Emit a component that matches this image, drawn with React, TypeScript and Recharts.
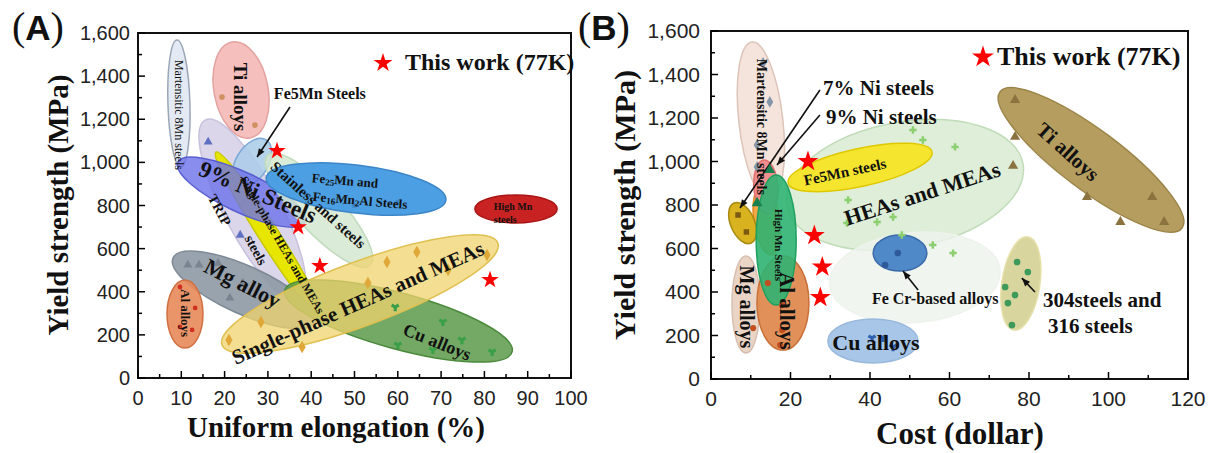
import React from "react";
import {
  ScatterChart,
  Scatter,
  XAxis,
  YAxis,
  ReferenceLine,
  ReferenceDot,
  ReferenceArea,
  Symbols,
} from "recharts";

const SERIF = '"Liberation Serif", "Times New Roman", serif';
const SANS = '"Liberation Sans", Arial, sans-serif';

// ── Axis ticks ─────────────────────────────────────────
const xTicksA = [0, 5, 10, 15, 20, 25, 30, 35, 40, 45, 50, 55, 60, 65, 70, 75, 80, 85, 90, 95, 100];
const xTicksB = [0, 10, 20, 30, 40, 50, 60, 70, 80, 90, 100, 110, 120];
const yTicks = [0, 100, 200, 300, 400, 500, 600, 700, 800, 900, 1000, 1100, 1200, 1300, 1400, 1500, 1600];

// ── This work (77K) ────────────────────────────────────
const starsA = [
  { x: 32.1, y: 1053 },
  { x: 37, y: 700 },
  { x: 42, y: 520 },
  { x: 81.3, y: 455 },
];
const starsB = [
  { x: 24.4, y: 1000 },
  { x: 26, y: 660 },
  { x: 28, y: 515 },
  { x: 27.5, y: 375 },
];

// ── Property regions (major axis ends, in data units) ──
const regionsA = [
  { id: "mart", x1: 9.0, y1: 1568, x2: 9.9, y2: 979 },
  { id: "ti", x1: 21.7, y1: 1558, x2: 25.9, y2: 1113 },
  { id: "trip", x1: 15.5, y1: 1196, x2: 37.4, y2: 361 },
  { id: "fe5mn", x1: 23.1, y1: 895, x2: 29.6, y2: 1104 },
  { id: "hea1", x1: 18, y1: 1048, x2: 42.5, y2: 278 },
  { id: "ni9", x1: 9.2, y1: 1001, x2: 38.6, y2: 723 },
  { id: "stain", x1: 30, y1: 1034, x2: 53.6, y2: 524 },
  { id: "fe25", x1: 29.6, y1: 928, x2: 71.1, y2: 825 },
  { id: "highmn", x1: 77.8, y1: 784, x2: 96.8, y2: 784 },
  { id: "mg", x1: 8.1, y1: 557, x2: 40.9, y2: 260 },
  { id: "al", x1: 10.85, y1: 454, x2: 10.85, y2: 139 },
  { id: "cu", x1: 33.9, y1: 408, x2: 86.4, y2: 121 },
  { id: "hea", x1: 19.4, y1: 153, x2: 83.1, y2: 626 },
];
const regionsB = [
  { id: "mart", x1: 10.3, y1: 1549, x2: 14.8, y2: 823 },
  { id: "hea", x1: 19.1, y1: 795, x2: 78.5, y2: 989 },
  { id: "bg", x1: 29.9, y1: 432, x2: 72.7, y2: 501 },
  { id: "ti", x1: 72.7, y1: 1320, x2: 118.5, y2: 694 },
  { id: "fe5mn", x1: 19.4, y1: 901, x2: 55.6, y2: 1044 },
  { id: "orange", x1: 12.8, y1: 892, x2: 15.3, y2: 570 },
  { id: "ni7", x1: 13.3, y1: 1007, x2: 14.3, y2: 760 },
  { id: "ni9", x1: 5.8, y1: 809, x2: 10.1, y2: 625 },
  { id: "mg", x1: 8.8, y1: 566, x2: 8.8, y2: 120 },
  { id: "al", x1: 18.1, y1: 566, x2: 18.1, y2: 133 },
  { id: "highmn", x1: 16.4, y1: 938, x2: 16.4, y2: 340 },
  { id: "fecr", x1: 40.8, y1: 579, x2: 54.3, y2: 579 },
  { id: "cu", x1: 29.4, y1: 175, x2: 52.1, y2: 175 },
  { id: "ss", x1: 79.7, y1: 653, x2: 76.2, y2: 225 },
];

const REGION_STYLE: Record<string, { w: number; fill: string; stroke: string; op: number }> = {
  "A.mart": { w: 11, fill: "#e4eaf3", stroke: "#9ba6b6", op: 1 },
  "A.ti": { w: 27, fill: "#f3bcb8", stroke: "#e3a3a0", op: 0.95 },
  "A.trip": { w: 28, fill: "#d7d1e8", stroke: "#c8c0dc", op: 0.9 },
  "A.fe5mn": { w: 16, fill: "#a9cbe9", stroke: "#7aa8d8", op: 0.85 },
  "A.hea1": { w: 10, fill: "#e6e600", stroke: "#c8c800", op: 1 },
  "A.ni9": { w: 20, fill: "#6b70e8", stroke: "#5a5fd0", op: 0.8 },
  "A.stain": { w: 22, fill: "#d3e8d0", stroke: "#c0dcbc", op: 0.85 },
  "A.fe25": { w: 24, fill: "#4c9fe2", stroke: "#3c86c8", op: 1 },
  "A.highmn": { w: 14, fill: "#c92222", stroke: "#a81515", op: 1 },
  "A.mg": { w: 24, fill: "#8d99a5", stroke: "#7d8995", op: 0.9 },
  "A.al": { w: 18, fill: "#e8885a", stroke: "#d07040", op: 0.9 },
  "A.cu": { w: 28, fill: "#5b9a4a", stroke: "#4a8a3a", op: 0.85 },
  "A.hea": { w: 32, fill: "#efd36e", stroke: "#e0c050", op: 0.75 },
  "B.mart": { w: 22, fill: "#f4e1d8", stroke: "#dcc4b8", op: 0.9 },
  "B.hea": { w: 63, fill: "#d3e8cc", stroke: "#c0dcb8", op: 0.75 },
  "B.bg": { w: 45, fill: "#eef3ec", stroke: "#eef3ec", op: 0.8 },
  "B.ti": { w: 30, fill: "#b49d5e", stroke: "#9b8448", op: 1 },
  "B.fe5mn": { w: 19, fill: "#f5e426", stroke: "#e0c800", op: 0.95 },
  "B.ni7": { w: 12, fill: "#f08a8a", stroke: "#e07070", op: 0.95 },
  "B.orange": { w: 13, fill: "#f2a23a", stroke: "#e08a20", op: 0.95 },
  "B.ni9": { w: 12, fill: "#d9b21f", stroke: "#a88a10", op: 1 },
  "B.mg": { w: 14, fill: "#e9d4c6", stroke: "#d8c0b0", op: 1 },
  "B.al": { w: 26, fill: "#e08a50", stroke: "#c87038", op: 0.95 },
  "B.highmn": { w: 20, fill: "#2fb372", stroke: "#20a060", op: 0.9 },
  "B.fecr": { w: 18, fill: "#4f89c8", stroke: "#3a6aa8", op: 1 },
  "B.cu": { w: 22, fill: "#a8c7e8", stroke: "#98b8dc", op: 1 },
  "B.ss": { w: 19, fill: "#d8d59e", stroke: "#e6e0a8", op: 1 },
};

// ── Sample points inside the regions ───────────────────
const mgPtsA = [
  { x: 11.5, y: 524 }, { x: 14.1, y: 524 }, { x: 18.5, y: 533 }, { x: 24.2, y: 441 }, { x: 21.2, y: 371 },
];
const heaPtsA = [
  { x: 57.5, y: 538 }, { x: 64.4, y: 584 }, { x: 71.6, y: 501 }, { x: 80.6, y: 570 },
  { x: 21, y: 176 }, { x: 37.9, y: 144 }, { x: 28.4, y: 260 }, { x: 53.1, y: 441 },
];
const cuPtsA = [
  { x: 59.4, y: 329 }, { x: 70.4, y: 260 }, { x: 60, y: 153 }, { x: 68.1, y: 130 }, { x: 74.8, y: 176 }, { x: 81.8, y: 121 },
];
const alPtsA = [{ x: 9.7, y: 422 }, { x: 13.2, y: 325 }, { x: 9.7, y: 237 }, { x: 12.5, y: 223 }];
const tripPtsA = [{ x: 16.2, y: 1095 }, { x: 23.6, y: 663 }];
const tiPtsA = [{ x: 19.4, y: 1303 }, { x: 27, y: 1173 }];
const fe25PtsA = [{ x: 50, y: 800 }, { x: 60, y: 815 }];

const tiPtsB = [
  { x: 76.5, y: 1283 }, { x: 76.5, y: 1113 }, { x: 76, y: 980 }, { x: 94.6, y: 836 },
  { x: 111, y: 836 }, { x: 103, y: 722 }, { x: 114, y: 722 },
];
const martPtsB = [{ x: 13.1, y: 1453 }, { x: 14.8, y: 1274 }, { x: 11.6, y: 1076 }, { x: 11.6, y: 975 }];
const heaPtsB = [
  { x: 50.8, y: 1145 }, { x: 53.3, y: 1099 }, { x: 61.4, y: 1067 }, { x: 55.8, y: 616 }, { x: 60.9, y: 579 },
  { x: 34.5, y: 823 }, { x: 45.8, y: 745 }, { x: 34.2, y: 717 }, { x: 41.8, y: 722 }, { x: 48, y: 662 },
];
const ssPtsB = [
  { x: 77, y: 538 }, { x: 79.7, y: 492 }, { x: 74, y: 423 }, { x: 76.5, y: 386 }, { x: 74.7, y: 349 }, { x: 75.7, y: 248 },
];
const alPtsB = [{ x: 17.9, y: 340 }, { x: 17.9, y: 225 }, { x: 17.4, y: 156 }, { x: 14.3, y: 441 }, { x: 10.6, y: 234 }];
const mnPtsB = [{ x: 14.8, y: 961 }, { x: 11.6, y: 809 }];
const cuPtsB = [{ x: 40.5, y: 189 }, { x: 43.3, y: 189 }, { x: 45.8, y: 147 }];
const fecrPtsB = [{ x: 47, y: 579 }, { x: 43.8, y: 524 }];
const ni9PtsB = [{ x: 6.8, y: 754 }, { x: 8.9, y: 676 }];

// ── Region labels ──────────────────────────────────────
const notesA = [
  { id: "mart", text: "Martensitic 8Mn steels", x: 9.47, y: 1220 },
  { id: "ti", text: "Ti alloys", x: 23.8, y: 1303 },
  { id: "fe5mn", text: "Fe5Mn Steels", x: 42.0, y: 1322 },
  { id: "ni9", text: "9% Ni Steels", x: 27.7, y: 863 },
  { id: "trip1", text: "TRIP", x: 18.9, y: 779 },
  { id: "trip2", text: "steels", x: 27.3, y: 594 },
  { id: "hea1", text: "Single-phase HEAs and MEAs", x: 33.3, y: 617 },
  { id: "stain", text: "Stainless and steels", x: 41.6, y: 802 },
  { id: "fe25a", text: "Fe_25Mn and", x: 47.8, y: 918 },
  { id: "fe25b", text: "Fe_16Mn_2Al Steels", x: 51.3, y: 826 },
  { id: "hm1", text: "High Mn", x: 86.6, y: 798 },
  { id: "hm2", text: "steels", x: 84.8, y: 737 },
  { id: "mg", text: "Mg   alloy", x: 24.2, y: 441 },
  { id: "al", text: "Al alloys", x: 11.1, y: 301 },
  { id: "hea", text: "Single-phase  HEAs and MEAs", x: 50.8, y: 348 },
  { id: "cu", text: "Cu alloys", x: 69.1, y: 167 },
];
const notesB = [
  { id: "mart", text: "Martensitic 8Mn steels", x: 12.8, y: 1159 },
  { id: "ni7", text: "7% Ni steels", x: 28.2, y: 1338 },
  { id: "ni9", text: "9% Ni   steels", x: 28.9, y: 1205 },
  { id: "fe5mn", text: "Fe5Mn steels", x: 33.7, y: 952 },
  { id: "highmn", text: "High Mn Steels", x: 17.1, y: 616 },
  { id: "hea", text: "HEAs and MEAs", x: 53.1, y: 855 },
  { id: "ti", text: "Ti alloys", x: 89.8, y: 1044 },
  { id: "mg", text: "Mg alloys", x: 9.1, y: 331 },
  { id: "al", text: "Al alloys", x: 19.1, y: 313 },
  { id: "fecr", text: "Fe Cr-based alloys", x: 56.4, y: 372 },
  { id: "cu", text: "Cu alloys", x: 41.5, y: 170 },
  { id: "ss1", text: "304steels and", x: 83.5, y: 363 },
  { id: "ss2", text: "316 steels", x: 84.8, y: 244 },
];

const NOTE_STYLE: Record<string, { fs: number; rot: number; bold: boolean; anchor?: string }> = {
  "A.mart": { fs: 12, rot: 90, bold: false },
  "A.ti": { fs: 19, rot: 90, bold: true },
  "A.fe5mn": { fs: 16, rot: 0, bold: true },
  "A.ni9": { fs: 23, rot: 23, bold: true },
  "A.trip1": { fs: 14, rot: 62, bold: true },
  "A.trip2": { fs: 14, rot: 62, bold: true },
  "A.hea1": { fs: 12, rot: 60, bold: true },
  "A.stain": { fs: 15, rot: 42, bold: true },
  "A.fe25a": { fs: 13, rot: 5, bold: true },
  "A.fe25b": { fs: 13, rot: 5, bold: true },
  "A.hm1": { fs: 10, rot: 0, bold: true },
  "A.hm2": { fs: 10, rot: 0, bold: true },
  "A.mg": { fs: 22, rot: 27, bold: true },
  "A.al": { fs: 13, rot: 90, bold: true },
  "A.hea": { fs: 21, rot: -24, bold: true },
  "A.cu": { fs: 18, rot: 22, bold: true },
  "B.mart": { fs: 14, rot: 90, bold: true },
  "B.ni7": { fs: 21, rot: 0, bold: true, anchor: "start" },
  "B.ni9": { fs: 21, rot: 0, bold: true, anchor: "start" },
  "B.fe5mn": { fs: 15, rot: -12, bold: true },
  "B.highmn": { fs: 11, rot: 90, bold: true },
  "B.hea": { fs: 22, rot: -18, bold: true },
  "B.ti": { fs: 21, rot: 42, bold: true },
  "B.mg": { fs: 20, rot: 90, bold: true },
  "B.al": { fs: 21, rot: 90, bold: true },
  "B.fecr": { fs: 16, rot: 0, bold: true },
  "B.cu": { fs: 22, rot: 0, bold: true },
  "B.ss1": { fs: 21, rot: 0, bold: true, anchor: "start" },
  "B.ss2": { fs: 21, rot: 0, bold: true, anchor: "start" },
};

// ── Pointer arrows (tail → head, data units) ───────────
const arrowsA = [{ x1: 35.1, y1: 1257, x2: 27.5, y2: 1025 }];
const arrowsB = [
  { x1: 27.4, y1: 1329, x2: 7.3, y2: 786 },
  { x1: 27.4, y1: 1214, x2: 16.6, y2: 984 },
  { x1: 52.1, y1: 409, x2: 48.3, y2: 497 },
  { x1: 81.5, y1: 400, x2: 78.2, y2: 464 },
];

// ── shapes ─────────────────────────────────────────────
const ellipseShape = (key: string) => (p: any) => {
  const st = REGION_STYLE[key];
  const cx = (p.x1 + p.x2) / 2;
  const cy = (p.y1 + p.y2) / 2;
  const rx = Math.hypot(p.x2 - p.x1, p.y2 - p.y1) / 2;
  const ang = (Math.atan2(p.y2 - p.y1, p.x2 - p.x1) * 180) / Math.PI;
  return (
    <ellipse
      cx={cx}
      cy={cy}
      rx={rx}
      ry={st.w}
      transform={`rotate(${ang} ${cx} ${cy})`}
      fill={st.fill}
      fillOpacity={st.op}
      stroke={st.stroke}
      strokeWidth={1.5}
    />
  );
};

const arrowShape = (p: any) => {
  const ang = Math.atan2(p.y2 - p.y1, p.x2 - p.x1);
  const L = 9;
  const a1 = ang + Math.PI - 0.38;
  const a2 = ang + Math.PI + 0.38;
  const pts = `${p.x2},${p.y2} ${p.x2 + L * Math.cos(a1)},${p.y2 + L * Math.sin(a1)} ${p.x2 + L * Math.cos(a2)},${p.y2 + L * Math.sin(a2)}`;
  return (
    <g>
      <line x1={p.x1} y1={p.y1} x2={p.x2} y2={p.y2} stroke="#111" strokeWidth={1.6} />
      <polygon points={pts} fill="#111" />
    </g>
  );
};

function rich(text: string, fs: number) {
  const parts = text.split(/_(\d+)/);
  return parts.map((s, i) => {
    if (i % 2 === 1)
      return (
        <tspan key={i} dy={fs * 0.3} fontSize={fs * 0.7}>
          {s}
        </tspan>
      );
    return (
      <tspan key={i} dy={i > 0 ? -fs * 0.3 : 0}>
        {s}
      </tspan>
    );
  });
}

const noteShape = (key: string, text: string) => (p: any) => {
  const st = NOTE_STYLE[key];
  return (
    <text
      x={p.cx}
      y={p.cy}
      transform={`rotate(${st.rot} ${p.cx} ${p.cy})`}
      textAnchor={st.anchor ?? "middle"}
      dominantBaseline="central"
      fontFamily={SERIF}
      fontWeight={st.bold ? 700 : 400}
      fontSize={st.fs}
      fill="#111"
    >
      {rich(text, st.fs)}
    </text>
  );
};

const mark = (type: any, size: number, fill: string) => (p: any) => (
  <Symbols cx={p.cx} cy={p.cy} type={type} size={size} fill={fill} />
);

const xTick = (major: number, fs: number) => (p: any) => {
  const v = p.payload.value;
  const isMajor = v % major === 0;
  return (
    <g>
      <line x1={p.x} x2={p.x} y1={p.y} y2={p.y - (isMajor ? 7 : 4)} stroke="#000" strokeWidth={1.5} />
      {isMajor && (
        <text x={p.x} y={p.y + 27} textAnchor="middle" fontFamily={SANS} fontSize={fs} fill="#222">
          {v}
        </text>
      )}
    </g>
  );
};

const yTick = (fs: number, gap: number) => (p: any) => {
  const v = p.payload.value;
  const isMajor = v % 200 === 0;
  return (
    <g>
      <line x1={p.x} x2={p.x + (isMajor ? 7 : 4)} y1={p.y} y2={p.y} stroke="#000" strokeWidth={1.5} />
      {isMajor && (
        <text x={p.x - gap} y={p.y + 7} textAnchor="end" fontFamily={SANS} fontSize={fs} fill="#222">
          {v.toLocaleString("en-US")}
        </text>
      )}
    </g>
  );
};

type Marks = { data: { x: number; y: number }[]; type: string; size: number; fill: string };

function Panel(props: {
  tag: string;
  width: number;
  margin: any;
  xMax: number;
  xTicks: number[];
  xMajor: number;
  fs: number;
  yGap: number;
  regions: typeof regionsA;
  notes: typeof notesA;
  arrows: typeof arrowsA;
  stars: typeof starsA;
  starSize: number;
  marks: Marks[];
}) {
  const { tag } = props;
  return (
    <ScatterChart width={props.width} height={453} margin={props.margin}>
      <XAxis
        type="number"
        dataKey="x"
        domain={[0, props.xMax]}
        ticks={props.xTicks}
        interval={0}
        axisLine={false}
        tickLine={false}
        tickSize={0}
        tickMargin={0}
        tick={xTick(props.xMajor, props.fs)}
        allowDataOverflow
      />
      <YAxis
        type="number"
        dataKey="y"
        domain={[0, 1600]}
        ticks={yTicks}
        interval={0}
        axisLine={false}
        tickLine={false}
        tickSize={0}
        tickMargin={0}
        tick={yTick(props.fs, props.yGap)}
        allowDataOverflow
      />
      <ReferenceArea x1={0} x2={props.xMax} y1={0} y2={1600} fill="none" stroke="#111" strokeWidth={2} />
      {props.regions.map((r) => (
        <ReferenceLine
          key={r.id}
          segment={[
            { x: r.x1, y: r.y1 },
            { x: r.x2, y: r.y2 },
          ]}
          ifOverflow="visible"
          shape={ellipseShape(`${tag}.${r.id}`)}
        />
      ))}
      {props.marks.map((m, i) => (
        <Scatter key={i} data={m.data} shape={mark(m.type, m.size, m.fill)} isAnimationActive={false} />
      ))}
      {props.arrows.map((a, i) => (
        <ReferenceLine
          key={`ar${i}`}
          segment={[
            { x: a.x1, y: a.y1 },
            { x: a.x2, y: a.y2 },
          ]}
          ifOverflow="visible"
          shape={arrowShape}
        />
      ))}
      {props.notes.map((n) => (
        <ReferenceDot key={n.id} x={n.x} y={n.y} ifOverflow="visible" shape={noteShape(`${tag}.${n.id}`, n.text)} />
      ))}
      <Scatter data={props.stars} shape={mark("star", props.starSize, "#ff0000")} isAnimationActive={false} />
    </ScatterChart>
  );
}

export default function App() {
  return (
    <div style={{ position: "absolute", left: 0, top: 0, width: 1218, height: 453, background: "#fff" }}>
      <div style={{ position: "absolute", left: 0, top: 0 }}>
        <Panel
          tag="A"
          width={600}
          margin={{ top: 33, right: 29, bottom: 45, left: 78 }}
          xMax={100}
          xTicks={xTicksA}
          xMajor={10}
          fs={20}
          yGap={8}
          regions={regionsA}
          notes={notesA}
          arrows={arrowsA}
          stars={starsA}
          starSize={95}
          marks={[
            { data: mgPtsA, type: "triangle", size: 35, fill: "#7a8490" },
            { data: heaPtsA, type: "diamond", size: 45, fill: "#e0a838" },
            { data: cuPtsA, type: "wye", size: 35, fill: "#3aa048" },
            { data: alPtsA, type: "circle", size: 18, fill: "#d03020" },
            { data: tripPtsA, type: "triangle", size: 35, fill: "#6070c0" },
            { data: tiPtsA, type: "circle", size: 25, fill: "#d09060" },
            { data: fe25PtsA, type: "circle", size: 20, fill: "#3c86c8" },
          ]}
        />
      </div>
      <div style={{ position: "absolute", left: 600, top: 0 }}>
        <Panel
          tag="B"
          width={618}
          margin={{ top: 31, right: 30, bottom: 44, left: 51 }}
          xMax={120}
          xTicks={xTicksB}
          xMajor={20}
          fs={21}
          yGap={11}
          regions={regionsB}
          notes={notesB}
          arrows={arrowsB}
          stars={starsB}
          starSize={135}
          marks={[
            { data: tiPtsB, type: "triangle", size: 45, fill: "#8b7340" },
            { data: martPtsB, type: "diamond", size: 40, fill: "#8595a8" },
            { data: heaPtsB, type: "cross", size: 30, fill: "#8ccf70" },
            { data: ssPtsB, type: "circle", size: 35, fill: "#3d9a5a" },
            { data: alPtsB, type: "circle", size: 30, fill: "#c05020" },
            { data: mnPtsB, type: "triangle", size: 50, fill: "#1a8050" },
            { data: cuPtsB, type: "wye", size: 35, fill: "#3060b0" },
            { data: fecrPtsB, type: "circle", size: 35, fill: "#2e5a9a" },
            { data: ni9PtsB, type: "square", size: 30, fill: "#7a5a10" },
          ]}
        />
      </div>
      <svg
        width={1218}
        height={453}
        style={{ position: "absolute", left: 0, top: 0, pointerEvents: "none" }}
      >
        {/* panel letters */}
        <text x={12} y={40} fill="#111">
          <tspan fontFamily={SERIF} fontSize={40}>(</tspan>
          <tspan fontFamily={SANS} fontWeight={700} fontSize={35}>A</tspan>
          <tspan fontFamily={SERIF} fontSize={40}>)</tspan>
        </text>
        <text x={578} y={40} fill="#111">
          <tspan fontFamily={SERIF} fontSize={40}>(</tspan>
          <tspan fontFamily={SANS} fontWeight={700} fontSize={35}>B</tspan>
          <tspan fontFamily={SERIF} fontSize={40}>)</tspan>
        </text>
        {/* axis titles */}
        <text
          transform="translate(68 205) rotate(-90)"
          textAnchor="middle"
          fontFamily={SERIF}
          fontWeight={700}
          fontSize={29}
          fill="#111"
        >
          Yield strength (MPa)
        </text>
        <text
          transform="translate(635 205) rotate(-90)"
          textAnchor="middle"
          fontFamily={SERIF}
          fontWeight={700}
          fontSize={30}
          fill="#111"
        >
          Yield strength (MPa)
        </text>
        <text x={336} y={437} textAnchor="middle" fontFamily={SERIF} fontWeight={700} fontSize={29} fill="#111">
          Uniform elongation (%)
        </text>
        <text x={960} y={444} textAnchor="middle" fontFamily={SERIF} fontWeight={700} fontSize={31} fill="#111">
          Cost (dollar)
        </text>
        {/* legends */}
        <Symbols cx={383} cy={63} type="star" size={110} fill="#ff0000" />
        <text x={405} y={70} fontFamily={SERIF} fontWeight={700} fontSize={24} fill="#111">
          This work (77K)
        </text>
        <Symbols cx={983} cy={57} type="star" size={150} fill="#ff0000" />
        <text x={997} y={65} fontFamily={SERIF} fontWeight={700} fontSize={26} fill="#111">
          This work (77K)
        </text>
      </svg>
    </div>
  );
}
